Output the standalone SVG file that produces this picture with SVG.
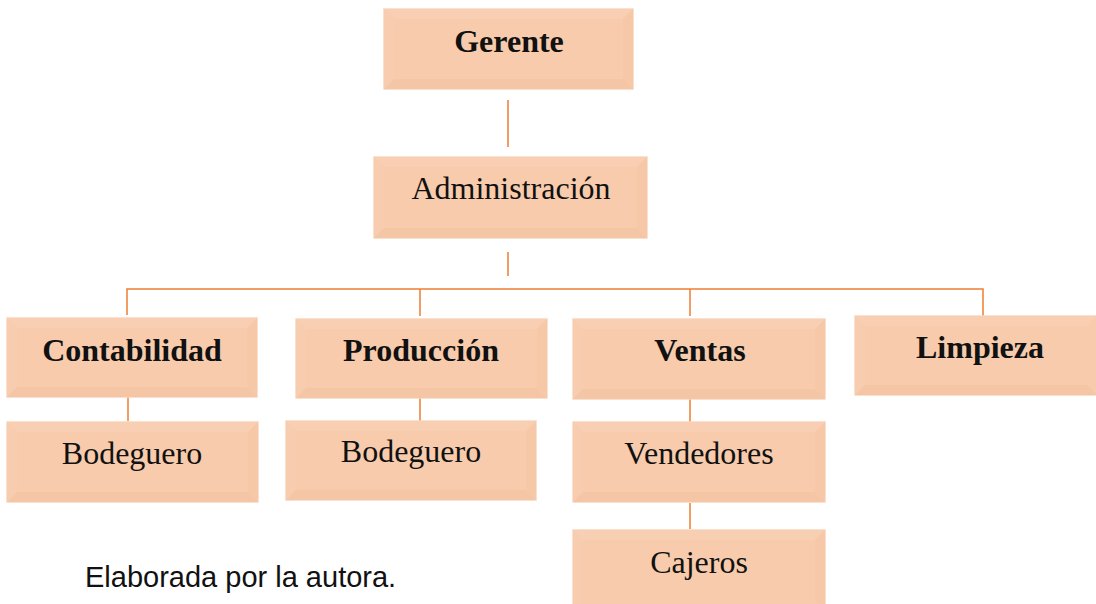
<svg xmlns="http://www.w3.org/2000/svg" width="1096" height="604" viewBox="0 0 1096 604">
<style>
.box{fill:#F7CBAB;stroke:#F9D6BE;stroke-width:1.5}
.top{fill:#F8CFB2}
.lft{fill:#F8CDAF}
.bot{fill:#F5C6A5}
.rgt{fill:#F6C8A8}
.lbl{font-family:"Liberation Serif","Times New Roman",serif;font-size:32px;fill:#111;text-anchor:middle}
.b{font-weight:bold}
.con{stroke:#ED7D31;stroke-width:1.5;fill:none}
</style>
<g id="connectors">
<line class="con" x1="508" y1="100" x2="508" y2="147"/>
<line class="con" x1="508" y1="252" x2="508" y2="276"/>
<polyline class="con" points="127,315 127,289 983,289 983,316"/>
<line class="con" x1="420" y1="289" x2="420" y2="316"/>
<line class="con" x1="690" y1="289" x2="690" y2="316"/>
<line class="con" x1="128" y1="397" x2="128" y2="421"/>
<line class="con" x1="420" y1="398" x2="420" y2="421"/>
<line class="con" x1="690" y1="399" x2="690" y2="422"/>
<line class="con" x1="690" y1="503" x2="690" y2="529"/>
</g>
<g id="gerente">
<rect class="box" x="384" y="9" width="249" height="80"/>
<polygon class="top" points="384,9 633,9 623,19 394,19"/>
<polygon class="lft" points="384,9 394,19 394,79 384,89"/>
<polygon class="bot" points="384,89 394,79 623,79 633,89"/>
<polygon class="rgt" points="633,9 623,19 623,79 633,89"/>
<text class="lbl b" x="509" y="52">Gerente</text>
</g>
<g id="administracion">
<rect class="box" x="374" y="157" width="273" height="81"/>
<polygon class="top" points="374,157 647,157 637,167 384,167"/>
<polygon class="lft" points="374,157 384,167 384,228 374,238"/>
<polygon class="bot" points="374,238 384,228 637,228 647,238"/>
<polygon class="rgt" points="647,157 637,167 637,228 647,238"/>
<text class="lbl" x="511" y="199">Administración</text>
</g>
<g id="contabilidad">
<rect class="box" x="7" y="318" width="250" height="79"/>
<polygon class="top" points="7,318 257,318 247,328 17,328"/>
<polygon class="lft" points="7,318 17,328 17,387 7,397"/>
<polygon class="bot" points="7,397 17,387 247,387 257,397"/>
<polygon class="rgt" points="257,318 247,328 247,387 257,397"/>
<text class="lbl b" x="132" y="361">Contabilidad</text>
</g>
<g id="produccion">
<rect class="box" x="296" y="319" width="251" height="79"/>
<polygon class="top" points="296,319 547,319 537,329 306,329"/>
<polygon class="lft" points="296,319 306,329 306,388 296,398"/>
<polygon class="bot" points="296,398 306,388 537,388 547,398"/>
<polygon class="rgt" points="547,319 537,329 537,388 547,398"/>
<text class="lbl b" x="421" y="361">Producción</text>
</g>
<g id="ventas">
<rect class="box" x="573" y="319" width="252" height="80"/>
<polygon class="top" points="573,319 825,319 815,329 583,329"/>
<polygon class="lft" points="573,319 583,329 583,389 573,399"/>
<polygon class="bot" points="573,399 583,389 815,389 825,399"/>
<polygon class="rgt" points="825,319 815,329 815,389 825,399"/>
<text class="lbl b" x="700" y="361">Ventas</text>
</g>
<g id="limpieza">
<rect class="box" x="855" y="316" width="242" height="79"/>
<polygon class="top" points="855,316 1097,316 1087,326 865,326"/>
<polygon class="lft" points="855,316 865,326 865,385 855,395"/>
<polygon class="bot" points="855,395 865,385 1087,385 1097,395"/>
<text class="lbl b" x="980" y="358">Limpieza</text>
</g>
<g id="bodeguero1">
<rect class="box" x="7" y="422" width="251" height="80"/>
<polygon class="top" points="7,422 258,422 248,432 17,432"/>
<polygon class="lft" points="7,422 17,432 17,492 7,502"/>
<polygon class="bot" points="7,502 17,492 248,492 258,502"/>
<polygon class="rgt" points="258,422 248,432 248,492 258,502"/>
<text class="lbl" x="132" y="464">Bodeguero</text>
</g>
<g id="bodeguero2">
<rect class="box" x="286" y="421" width="250" height="79"/>
<polygon class="top" points="286,421 536,421 526,431 296,431"/>
<polygon class="lft" points="286,421 296,431 296,490 286,500"/>
<polygon class="bot" points="286,500 296,490 526,490 536,500"/>
<polygon class="rgt" points="536,421 526,431 526,490 536,500"/>
<text class="lbl" x="411" y="462">Bodeguero</text>
</g>
<g id="vendedores">
<rect class="box" x="573" y="422" width="252" height="80"/>
<polygon class="top" points="573,422 825,422 815,432 583,432"/>
<polygon class="lft" points="573,422 583,432 583,492 573,502"/>
<polygon class="bot" points="573,502 583,492 815,492 825,502"/>
<polygon class="rgt" points="825,422 815,432 815,492 825,502"/>
<text class="lbl" x="699" y="464">Vendedores</text>
</g>
<g id="cajeros">
<rect class="box" x="573" y="530" width="252" height="80"/>
<polygon class="top" points="573,530 825,530 815,540 583,540"/>
<polygon class="lft" points="573,530 583,540 583,600 573,610"/>
<polygon class="rgt" points="825,530 815,540 815,600 825,610"/>
<text class="lbl" x="699" y="573">Cajeros</text>
</g>
<text x="85" y="587" style="font-family:'Liberation Sans',Arial,sans-serif;font-size:29px;fill:#111">Elaborada por la autora.</text>
</svg>
